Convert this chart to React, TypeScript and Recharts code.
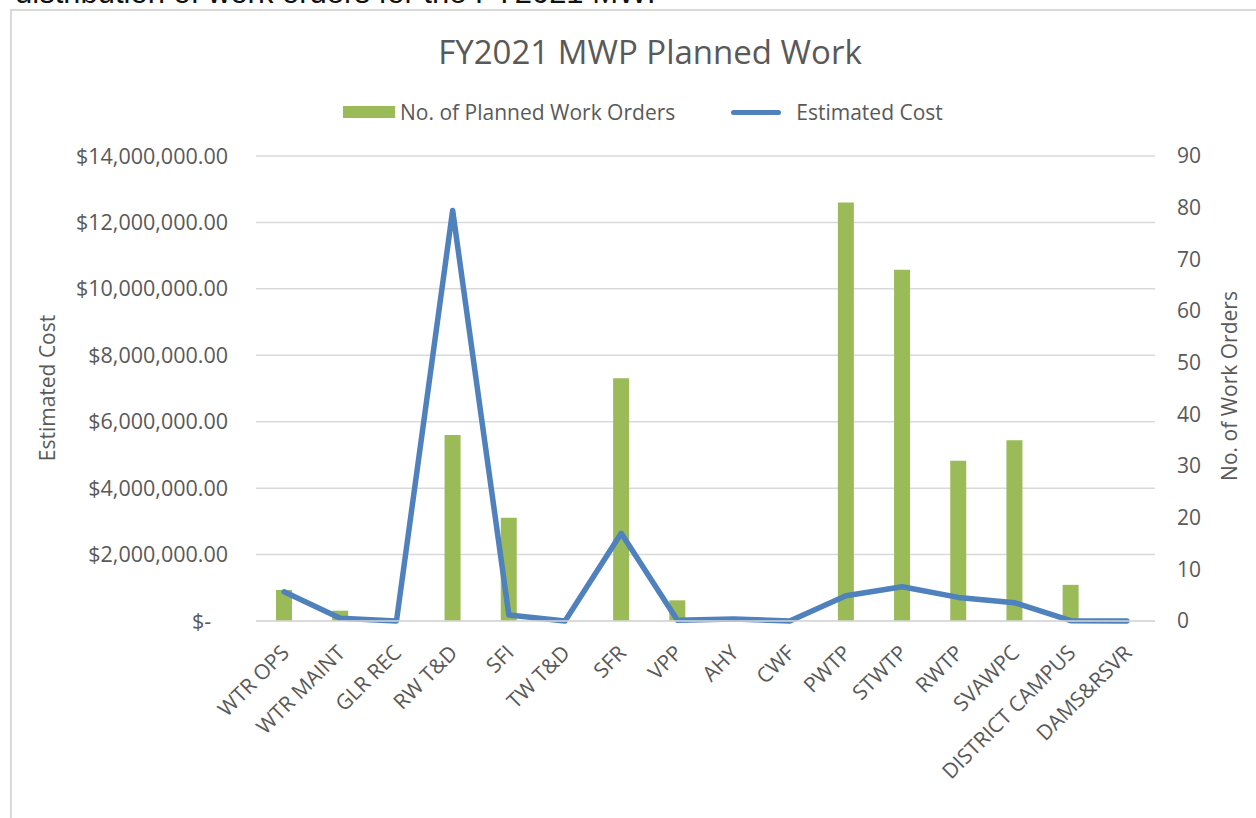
import { ComposedChart, Bar, Line, CartesianGrid, XAxis, YAxis } from "recharts";

const categories = [
    "WTR OPS",
    "WTR MAINT",
    "GLR REC",
    "RW T&D",
    "SFI",
    "TW T&D",
    "SFR",
    "VPP",
    "AHY",
    "CWF",
    "PWTP",
    "STWTP",
    "RWTP",
    "SVAWPC",
    "DISTRICT CAMPUS",
    "DAMS&RSVR",
];

const workOrders = [6, 2, 0, 36, 20, 0, 47, 4, 0, 0, 81, 68, 31, 35, 7, 0];

const estimatedCost = [
    880000, 80000, 0, 12360000, 180000, 0, 2640000, 20000, 60000, 0, 760000,
    1030000, 710000, 550000, 10000, 0,
];

const costTicks = [0, 2000000, 4000000, 6000000, 8000000, 10000000, 12000000, 14000000];
const orderTicks = [0, 10, 20, 30, 40, 50, 60, 70, 80, 90];

const data = categories.map((name, i) => ({
    name,
    orders: workOrders[i],
    cost: estimatedCost[i],
}));

const FONT = "'Open Sans', sans-serif";
const TEXT = "#595959";
const GRID = "#d9d9d9";
const GREEN = "#9bbb59";
const BLUE = "#4f81bd";

const money = (v: number) =>
    v === 0
        ? "$-\u00a0\u00a0\u00a0"
        : "$" + v.toLocaleString("en-US", { minimumFractionDigits: 2, maximumFractionDigits: 2 });

const XTick = ({ x, y, payload }: any) => (
    <g transform={`translate(${x + 1},${y + 20})`}>
        <text
            x={0}
            y={0}
            dy="0.35em"
            textAnchor="end"
            transform="rotate(-45)"
            fill={TEXT}
            fontSize={21}
            fontFamily={FONT}
        >
            {payload.value}
        </text>
    </g>
);

const App = () => {
    return (
        <div style={{ position: "absolute", left: 0, top: 0, width: 1256, height: 818, overflow: "hidden", background: "#fff" }}>
            <div
                style={{
                    position: "absolute",
                    left: 15,
                    top: -22,
                    fontFamily: "'Liberation Sans', Arial, sans-serif",
                    fontSize: 31,
                    lineHeight: "30px",
                    color: "#111",
                    whiteSpace: "nowrap",
                }}
            >
                distribution of work orders for the FY2021 MWP
            </div>

            <div
                style={{
                    position: "absolute",
                    left: 10,
                    top: 9,
                    width: 1300,
                    height: 900,
                    border: `2px solid ${GRID}`,
                }}
            />

            <div
                style={{
                    position: "absolute",
                    left: 0,
                    top: 29,
                    width: 1300,
                    textAlign: "center",
                    fontFamily: FONT,
                    fontSize: 33,
                    lineHeight: "46px",
                    color: TEXT,
                }}
            >
                FY2021 MWP Planned Work
            </div>

            <div
                style={{
                    position: "absolute",
                    left: 343,
                    top: 98,
                    display: "flex",
                    alignItems: "center",
                    fontFamily: FONT,
                    fontSize: 21,
                    lineHeight: "28px",
                    color: TEXT,
                    whiteSpace: "nowrap",
                }}
            >
                <span style={{ display: "inline-block", width: 52, height: 12, background: GREEN, marginRight: 5 }} />
                <span>No. of Planned Work Orders</span>
                <span
                    style={{
                        display: "inline-block",
                        width: 50,
                        height: 5,
                        borderRadius: 3,
                        background: BLUE,
                        marginLeft: 56,
                        marginRight: 15,
                    }}
                />
                <span>Estimated Cost</span>
            </div>

            <div
                style={{
                    position: "absolute",
                    left: 47,
                    top: 388,
                    transform: "translate(-50%, -50%) rotate(-90deg)",
                    fontFamily: FONT,
                    fontSize: 21,
                    color: TEXT,
                    whiteSpace: "nowrap",
                }}
            >
                Estimated Cost
            </div>

            <div
                style={{
                    position: "absolute",
                    left: 1229,
                    top: 386,
                    transform: "translate(-50%, -50%) rotate(-90deg)",
                    fontFamily: FONT,
                    fontSize: 21,
                    color: TEXT,
                    whiteSpace: "nowrap",
                }}
            >
                No. of Work Orders
            </div>

            <div style={{ position: "absolute", left: 0, top: 0 }}>
                <ComposedChart
                    width={1256}
                    height={818}
                    data={data}
                    margin={{ top: 156, right: 0, bottom: 0, left: 0 }}
                >
                    <CartesianGrid yAxisId="left" vertical={false} stroke={GRID} strokeWidth={1.5} />
                    <XAxis
                        dataKey="name"
                        height={197}
                        interval={0}
                        tickLine={false}
                        axisLine={{ stroke: GRID, strokeWidth: 1.5 }}
                        tick={<XTick />}
                    />
                    <YAxis
                        yAxisId="left"
                        orientation="left"
                        width={256}
                        domain={[0, 14000000]}
                        ticks={costTicks}
                        tickFormatter={money}
                        tickLine={false}
                        axisLine={false}
                        tickMargin={22}
                        tick={{ fill: TEXT, fontSize: 21.5, fontFamily: FONT }}
                    />
                    <YAxis
                        yAxisId="right"
                        orientation="right"
                        width={101}
                        domain={[0, 90]}
                        ticks={orderTicks}
                        tickLine={false}
                        axisLine={false}
                        tickMargin={16}
                        tick={{ fill: TEXT, fontSize: 21, fontFamily: FONT }}
                    />
                    <Bar
                        yAxisId="right"
                        dataKey="orders"
                        fill={GREEN}
                        barSize={16}
                        isAnimationActive={false}
                    />
                    <Line
                        yAxisId="left"
                        type="linear"
                        dataKey="cost"
                        stroke={BLUE}
                        strokeWidth={5.5}
                        strokeLinecap="round"
                        strokeLinejoin="round"
                        dot={false}
                        activeDot={false}
                        isAnimationActive={false}
                    />
                </ComposedChart>
            </div>
        </div>
    );
};

export default App;
